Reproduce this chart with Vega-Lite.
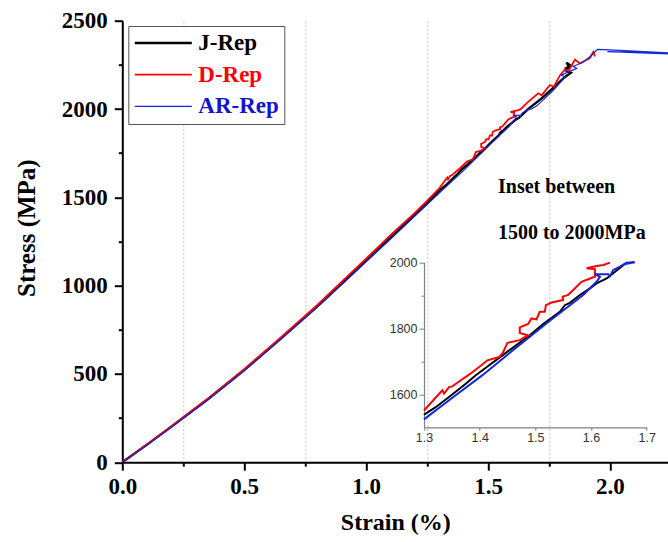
{
  "$schema": "https://vega.github.io/schema/vega-lite/v6.json",
  "width": 546,
  "height": 441.5,
  "autosize": {"type": "none"},
  "padding": {"left": 122.3, "top": 20.7, "right": 0, "bottom": 79.8},
  "background": "white",
  "config": {
    "view": {"stroke": null},
    "axis": {
      "domainColor": "black", "domainWidth": 2, "tickColor": "black", "tickWidth": 2,
      "labelFont": "Liberation Serif", "labelFontWeight": "bold", "labelFontSize": 23, "labelColor": "black",
      "titleFont": "Liberation Serif", "titleFontWeight": "bold", "titleFontSize": 24, "titleColor": "black",
      "grid": false
    },
    "legend": {
      "orient": "none", "legendX": 6, "legendY": 5.3,
      "fillColor": "white", "strokeColor": "#555555", "padding": 5, "cornerRadius": 0,
      "labelFont": "Liberation Serif", "labelFontWeight": "bold", "labelFontSize": 23, "labelLimit": 300,
      "labelOffset": 5, "symbolType": "stroke", "symbolSize": 3249, "clipHeight": 24, "rowPadding": 7.7
    }
  },
  "datasets": {
    "notes": [
      {"label": "Inset between", "row": 1},
      {"label": "1500 to 2000MPa", "row": 2}
    ],
    "curves": [
      {"series": "J-Rep", "i": 0, "strain": 0, "stress": 0},
      {"series": "J-Rep", "i": 1, "strain": 0.1, "stress": 98},
      {"series": "J-Rep", "i": 2, "strain": 0.2, "stress": 200},
      {"series": "J-Rep", "i": 3, "strain": 0.347, "stress": 352},
      {"series": "J-Rep", "i": 4, "strain": 0.5, "stress": 522},
      {"series": "J-Rep", "i": 5, "strain": 0.65, "stress": 700},
      {"series": "J-Rep", "i": 6, "strain": 0.8, "stress": 882},
      {"series": "J-Rep", "i": 7, "strain": 0.934, "stress": 1055},
      {"series": "J-Rep", "i": 8, "strain": 1.0, "stress": 1140},
      {"series": "J-Rep", "i": 9, "strain": 1.1, "stress": 1270},
      {"series": "J-Rep", "i": 10, "strain": 1.249, "stress": 1466},
      {"series": "J-Rep", "i": 11, "strain": 1.3, "stress": 1538},
      {"series": "J-Rep", "i": 12, "strain": 1.321, "stress": 1561},
      {"series": "J-Rep", "i": 13, "strain": 1.345, "stress": 1592},
      {"series": "J-Rep", "i": 14, "strain": 1.375, "stress": 1632},
      {"series": "J-Rep", "i": 15, "strain": 1.393, "stress": 1658},
      {"series": "J-Rep", "i": 16, "strain": 1.417, "stress": 1688},
      {"series": "J-Rep", "i": 17, "strain": 1.441, "stress": 1718},
      {"series": "J-Rep", "i": 18, "strain": 1.466, "stress": 1749},
      {"series": "J-Rep", "i": 19, "strain": 1.49, "stress": 1779},
      {"series": "J-Rep", "i": 20, "strain": 1.514, "stress": 1813},
      {"series": "J-Rep", "i": 21, "strain": 1.544, "stress": 1850},
      {"series": "J-Rep", "i": 22, "strain": 1.553, "stress": 1870},
      {"series": "J-Rep", "i": 23, "strain": 1.562, "stress": 1877},
      {"series": "J-Rep", "i": 24, "strain": 1.58, "stress": 1901},
      {"series": "J-Rep", "i": 25, "strain": 1.598, "stress": 1921},
      {"series": "J-Rep", "i": 26, "strain": 1.61, "stress": 1936},
      {"series": "J-Rep", "i": 27, "strain": 1.628, "stress": 1951},
      {"series": "J-Rep", "i": 28, "strain": 1.646, "stress": 1975},
      {"series": "J-Rep", "i": 29, "strain": 1.663, "stress": 1998},
      {"series": "J-Rep", "i": 30, "strain": 1.72, "stress": 2060},
      {"series": "J-Rep", "i": 31, "strain": 1.78, "stress": 2135},
      {"series": "J-Rep", "i": 32, "strain": 1.81, "stress": 2175},
      {"series": "J-Rep", "i": 33, "strain": 1.84, "stress": 2205},
      {"series": "J-Rep", "i": 34, "strain": 1.82, "stress": 2218},
      {"series": "J-Rep", "i": 35, "strain": 1.832, "stress": 2240},
      {"series": "J-Rep", "i": 36, "strain": 1.822, "stress": 2262},
      {"series": "J-Rep", "i": 37, "strain": 1.84, "stress": 2245},
      {"series": "J-Rep", "i": 38, "strain": 1.815, "stress": 2228},

      {"series": "D-Rep", "i": 0, "strain": 0, "stress": 0},
      {"series": "D-Rep", "i": 1, "strain": 0.1, "stress": 100},
      {"series": "D-Rep", "i": 2, "strain": 0.2, "stress": 203},
      {"series": "D-Rep", "i": 3, "strain": 0.347, "stress": 356},
      {"series": "D-Rep", "i": 4, "strain": 0.5, "stress": 527},
      {"series": "D-Rep", "i": 5, "strain": 0.65, "stress": 706},
      {"series": "D-Rep", "i": 6, "strain": 0.8, "stress": 890},
      {"series": "D-Rep", "i": 7, "strain": 0.934, "stress": 1066},
      {"series": "D-Rep", "i": 8, "strain": 1.0, "stress": 1152},
      {"series": "D-Rep", "i": 9, "strain": 1.1, "stress": 1286},
      {"series": "D-Rep", "i": 10, "strain": 1.2, "stress": 1412},
      {"series": "D-Rep", "i": 11, "strain": 1.249, "stress": 1478},
      {"series": "D-Rep", "i": 12, "strain": 1.3, "stress": 1551},
      {"series": "D-Rep", "i": 13, "strain": 1.333, "stress": 1612},
      {"series": "D-Rep", "i": 14, "strain": 1.336, "stress": 1602},
      {"series": "D-Rep", "i": 15, "strain": 1.345, "stress": 1622},
      {"series": "D-Rep", "i": 16, "strain": 1.351, "stress": 1624},
      {"series": "D-Rep", "i": 17, "strain": 1.375, "stress": 1653},
      {"series": "D-Rep", "i": 18, "strain": 1.384, "stress": 1663},
      {"series": "D-Rep", "i": 19, "strain": 1.399, "stress": 1683},
      {"series": "D-Rep", "i": 20, "strain": 1.414, "stress": 1703},
      {"series": "D-Rep", "i": 21, "strain": 1.435, "stress": 1713},
      {"series": "D-Rep", "i": 22, "strain": 1.441, "stress": 1724},
      {"series": "D-Rep", "i": 23, "strain": 1.45, "stress": 1756},
      {"series": "D-Rep", "i": 24, "strain": 1.472, "stress": 1764},
      {"series": "D-Rep", "i": 25, "strain": 1.487, "stress": 1779},
      {"series": "D-Rep", "i": 26, "strain": 1.472, "stress": 1786},
      {"series": "D-Rep", "i": 27, "strain": 1.472, "stress": 1803},
      {"series": "D-Rep", "i": 28, "strain": 1.487, "stress": 1813},
      {"series": "D-Rep", "i": 29, "strain": 1.493, "stress": 1830},
      {"series": "D-Rep", "i": 30, "strain": 1.502, "stress": 1827},
      {"series": "D-Rep", "i": 31, "strain": 1.508, "stress": 1850},
      {"series": "D-Rep", "i": 32, "strain": 1.517, "stress": 1850},
      {"series": "D-Rep", "i": 33, "strain": 1.519, "stress": 1870},
      {"series": "D-Rep", "i": 34, "strain": 1.529, "stress": 1878},
      {"series": "D-Rep", "i": 35, "strain": 1.55, "stress": 1886},
      {"series": "D-Rep", "i": 36, "strain": 1.549, "stress": 1896},
      {"series": "D-Rep", "i": 37, "strain": 1.559, "stress": 1901},
      {"series": "D-Rep", "i": 38, "strain": 1.568, "stress": 1916},
      {"series": "D-Rep", "i": 39, "strain": 1.583, "stress": 1941},
      {"series": "D-Rep", "i": 40, "strain": 1.603, "stress": 1954},
      {"series": "D-Rep", "i": 41, "strain": 1.607, "stress": 1956},
      {"series": "D-Rep", "i": 42, "strain": 1.607, "stress": 1979},
      {"series": "D-Rep", "i": 43, "strain": 1.592, "stress": 1982},
      {"series": "D-Rep", "i": 44, "strain": 1.61, "stress": 1989},
      {"series": "D-Rep", "i": 45, "strain": 1.622, "stress": 1992},
      {"series": "D-Rep", "i": 46, "strain": 1.634, "stress": 1999},
      {"series": "D-Rep", "i": 47, "strain": 1.66, "stress": 2035},
      {"series": "D-Rep", "i": 48, "strain": 1.706, "stress": 2089},
      {"series": "D-Rep", "i": 49, "strain": 1.72, "stress": 2078},
      {"series": "D-Rep", "i": 50, "strain": 1.754, "stress": 2136},
      {"series": "D-Rep", "i": 51, "strain": 1.77, "stress": 2126},
      {"series": "D-Rep", "i": 52, "strain": 1.795, "stress": 2190},
      {"series": "D-Rep", "i": 53, "strain": 1.816, "stress": 2225},
      {"series": "D-Rep", "i": 54, "strain": 1.83, "stress": 2215},
      {"series": "D-Rep", "i": 55, "strain": 1.857, "stress": 2280},
      {"series": "D-Rep", "i": 56, "strain": 1.877, "stress": 2258},
      {"series": "D-Rep", "i": 57, "strain": 1.918, "stress": 2289},
      {"series": "D-Rep", "i": 58, "strain": 1.932, "stress": 2324},
      {"series": "D-Rep", "i": 59, "strain": 1.939, "stress": 2298},

      {"series": "AR-Rep", "i": 0, "strain": 0, "stress": 0},
      {"series": "AR-Rep", "i": 1, "strain": 0.1, "stress": 96},
      {"series": "AR-Rep", "i": 2, "strain": 0.2, "stress": 197},
      {"series": "AR-Rep", "i": 3, "strain": 0.347, "stress": 349},
      {"series": "AR-Rep", "i": 4, "strain": 0.5, "stress": 518},
      {"series": "AR-Rep", "i": 5, "strain": 0.65, "stress": 696},
      {"series": "AR-Rep", "i": 6, "strain": 0.8, "stress": 878},
      {"series": "AR-Rep", "i": 7, "strain": 0.934, "stress": 1050},
      {"series": "AR-Rep", "i": 8, "strain": 1.0, "stress": 1136},
      {"series": "AR-Rep", "i": 9, "strain": 1.1, "stress": 1264},
      {"series": "AR-Rep", "i": 10, "strain": 1.249, "stress": 1458},
      {"series": "AR-Rep", "i": 11, "strain": 1.3, "stress": 1524},
      {"series": "AR-Rep", "i": 12, "strain": 1.345, "stress": 1582},
      {"series": "AR-Rep", "i": 13, "strain": 1.405, "stress": 1658},
      {"series": "AR-Rep", "i": 14, "strain": 1.466, "stress": 1742},
      {"series": "AR-Rep", "i": 15, "strain": 1.526, "stress": 1823},
      {"series": "AR-Rep", "i": 16, "strain": 1.586, "stress": 1901},
      {"series": "AR-Rep", "i": 17, "strain": 1.61, "stress": 1941},
      {"series": "AR-Rep", "i": 18, "strain": 1.616, "stress": 1956},
      {"series": "AR-Rep", "i": 19, "strain": 1.607, "stress": 1964},
      {"series": "AR-Rep", "i": 20, "strain": 1.631, "stress": 1964},
      {"series": "AR-Rep", "i": 21, "strain": 1.634, "stress": 1958},
      {"series": "AR-Rep", "i": 22, "strain": 1.64, "stress": 1977},
      {"series": "AR-Rep", "i": 23, "strain": 1.652, "stress": 1987},
      {"series": "AR-Rep", "i": 24, "strain": 1.664, "stress": 1999},
      {"series": "AR-Rep", "i": 25, "strain": 1.676, "stress": 2000},
      {"series": "AR-Rep", "i": 26, "strain": 1.661, "stress": 1995},
      {"series": "AR-Rep", "i": 27, "strain": 1.679, "stress": 2000},
      {"series": "AR-Rep", "i": 28, "strain": 1.7, "stress": 2018},
      {"series": "AR-Rep", "i": 29, "strain": 1.741, "stress": 2070},
      {"series": "AR-Rep", "i": 30, "strain": 1.73, "stress": 2058},
      {"series": "AR-Rep", "i": 31, "strain": 1.76, "stress": 2095},
      {"series": "AR-Rep", "i": 32, "strain": 1.79, "stress": 2140},
      {"series": "AR-Rep", "i": 33, "strain": 1.816, "stress": 2183},
      {"series": "AR-Rep", "i": 34, "strain": 1.8, "stress": 2192},
      {"series": "AR-Rep", "i": 35, "strain": 1.864, "stress": 2230},
      {"series": "AR-Rep", "i": 36, "strain": 1.85, "stress": 2242},
      {"series": "AR-Rep", "i": 37, "strain": 1.89, "stress": 2265},
      {"series": "AR-Rep", "i": 38, "strain": 1.918, "stress": 2296},
      {"series": "AR-Rep", "i": 39, "strain": 1.939, "stress": 2324},
      {"series": "AR-Rep", "i": 40, "strain": 1.95, "stress": 2338},
      {"series": "AR-Rep", "i": 41, "strain": 2.0, "stress": 2335},
      {"series": "AR-Rep", "i": 42, "strain": 2.239, "stress": 2318},
      {"series": "AR-Rep", "i": 43, "strain": 1.99, "stress": 2325},
      {"series": "AR-Rep", "i": 44, "strain": 2.239, "stress": 2312}
    ]
  },
  "layer": [
    {
      "layer": [
        {
          "mark": {"type": "rule", "color": "black", "strokeWidth": 2},
          "encoding": {"y": {"datum": 2500}}
        },
        {
          "data": {"name": "curves"},
          "mark": {"type": "line", "clip": true},
          "encoding": {
            "x": {
              "field": "strain", "type": "quantitative",
              "scale": {"domain": [0, 2.2395], "nice": false, "zero": false},
              "axis": {
                "orient": "bottom",
                "values": [0, 0.25, 0.5, 0.75, 1, 1.25, 1.5, 1.75, 2],
                "format": ".1f",
                "labelExpr": "round(datum.value*4) % 2 == 0 ? datum.label : ''",
                "tickSize": {"condition": {"test": "round(datum.value*4) % 2 == 0", "value": 8}, "value": 4},
                "grid": true, "gridColor": "#c4c4c4", "gridDash": [2, 2], "gridWidth": 1,
                "gridOpacity": {"condition": {"test": "round(datum.value*4) % 2 == 1", "value": 1}, "value": 0},
                "domainColor": "black", "domainWidth": 2, "tickColor": "black", "tickWidth": 2,
                "labelFont": "Liberation Serif", "labelFontWeight": "bold", "labelFontSize": 23, "labelColor": "black",
                "titleFont": "Liberation Serif", "titleFontWeight": "bold", "titleFontSize": 24, "titleColor": "black",
                "labelPadding": 5, "labelFlush": false, "labelOverlap": false,
                "title": "Strain (%)", "titlePadding": 12
              }
            },
            "y": {
              "field": "stress", "type": "quantitative",
              "scale": {"domain": [0, 2500], "nice": false},
              "axis": {
                "orient": "left",
                "values": [0, 250, 500, 750, 1000, 1250, 1500, 1750, 2000, 2250, 2500],
                "format": "d",
                "labelExpr": "datum.value % 500 == 0 ? datum.label : ''",
                "tickSize": {"condition": {"test": "datum.value % 500 == 0", "value": 8}, "value": 4},
                "domainColor": "black", "domainWidth": 2, "tickColor": "black", "tickWidth": 2,
                "labelFont": "Liberation Serif", "labelFontWeight": "bold", "labelFontSize": 23, "labelColor": "black",
                "titleFont": "Liberation Serif", "titleFontWeight": "bold", "titleFontSize": 25, "titleColor": "black",
                "labelPadding": 7, "labelFlush": false, "labelOverlap": false,
                "title": "Stress (MPa)", "titlePadding": 22, "titleY": 207
              }
            },
            "color": {
              "field": "series", "type": "nominal",
              "scale": {"domain": ["J-Rep", "D-Rep", "AR-Rep"], "range": ["#000000", "#ff0000", "#1428d8"]},
              "legend": {
                "title": null,
                "labelColor": {"expr": "datum.label == 'J-Rep' ? '#000000' : datum.label == 'D-Rep' ? '#ff0000' : '#1414c8'"}
              }
            },
            "strokeWidth": {
              "field": "series", "type": "nominal",
              "scale": {"domain": ["J-Rep", "D-Rep", "AR-Rep"], "range": [2.4, 1.2, 1]},
              "legend": {"title": null}
            },
            "order": {"field": "i", "type": "quantitative"}
          }
        },
        {
          "data": {"name": "notes"},
          "mark": {"type": "text", "font": "Liberation Serif", "fontWeight": "bold", "fontSize": 20, "align": "left", "baseline": "middle", "color": "black"},
          "encoding": {
            "x": {"datum": 1.541},
            "y": {"datum": 1560},
            "yOffset": {"field": "row", "type": "quantitative", "scale": {"domain": [1, 2], "range": [0, 46.3]}, "legend": null},
            "text": {"field": "label", "type": "nominal"}
          }
        }
      ]
    },
    {
      "data": {"name": "curves"},
      "transform": [{"filter": "datum.strain >= 1.3 && datum.stress >= 1500 && datum.stress <= 2000"}],
      "mark": {"type": "line", "strokeWidth": 2},
      "encoding": {
        "x": {
          "field": "strain", "type": "quantitative",
          "scale": {"domain": [1.3, 1.7], "range": [301.7, 524.4], "nice": false, "zero": false},
          "axis": {
            "orient": "bottom", "offset": -34.9,
            "values": [1.3, 1.4, 1.5, 1.6, 1.7], "format": ".1f",
            "domainColor": "#808080", "domainWidth": 1.2, "tickColor": "#808080", "tickWidth": 1, "tickSize": 3,
            "labelFont": "Liberation Sans", "labelFontWeight": "normal", "labelFontSize": 12.5, "labelColor": "#333333",
            "labelPadding": 1, "labelFlush": false, "title": null, "grid": false
          }
        },
        "y": {
          "field": "stress", "type": "quantitative",
          "scale": {"domain": [1500, 2000], "range": [406.6, 241.6], "nice": false, "zero": false},
          "axis": {
            "orient": "left", "offset": -301.7,
            "values": [1600, 1700, 1800, 1900, 2000], "format": "d",
            "labelExpr": "datum.value % 200 == 0 ? datum.label : ''",
            "domainColor": "#808080", "domainWidth": 1.2, "tickColor": "#808080", "tickWidth": 1,
            "tickSize": {"condition": {"test": "datum.value % 200 == 0", "value": 5}, "value": 3},
            "labelFont": "Liberation Sans", "labelFontWeight": "normal", "labelFontSize": 12.5, "labelColor": "#333333",
            "labelPadding": 2, "labelFlush": false, "title": null, "grid": false
          }
        },
        "color": {"field": "series", "type": "nominal", "legend": null},
        "order": {"field": "i", "type": "quantitative"}
      }
    }
  ],
  "resolve": {"scale": {"x": "independent", "y": "independent"}}
}
